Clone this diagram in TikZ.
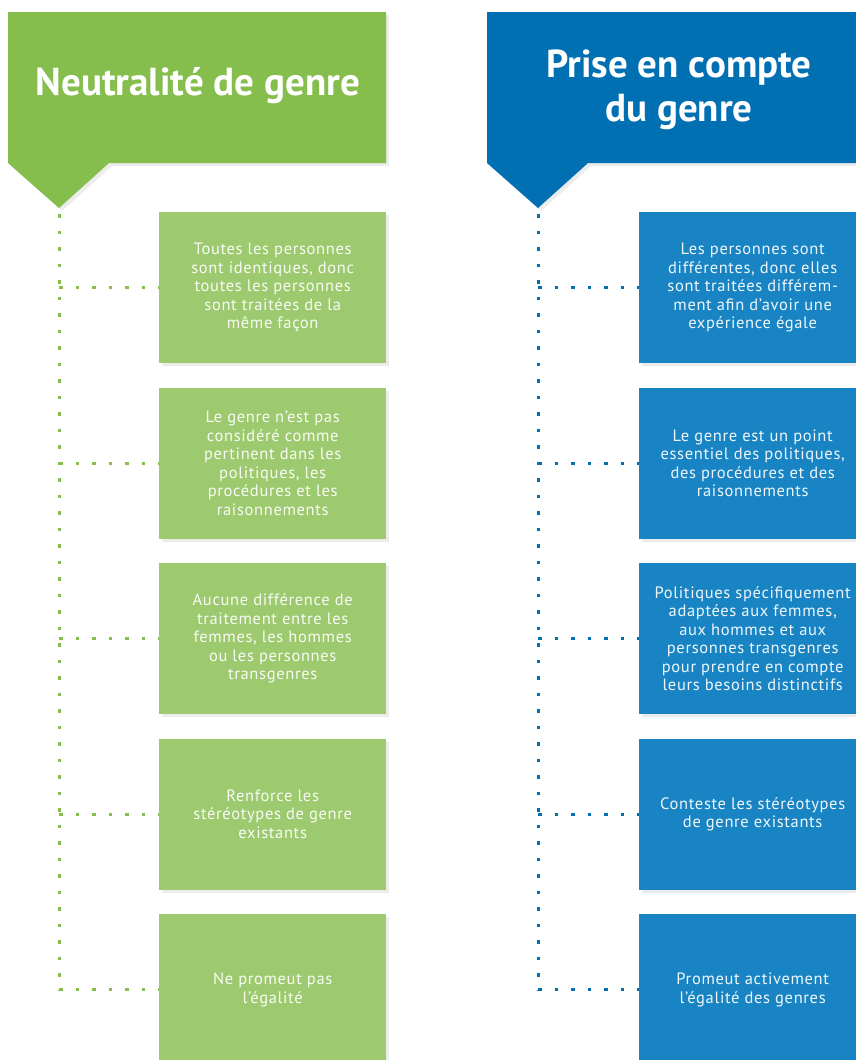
\documentclass[tikz,border=0pt]{standalone}
\usepackage{fontspec}
\setmainfont{PT Sans}
\usetikzlibrary{shadows, calc}
\definecolor{leafdark}{RGB}{134, 190, 78}
\definecolor{leaf}{RGB}{157, 201, 111}
\definecolor{seadark}{RGB}{0, 112, 178}
\definecolor{sea}{RGB}{24, 132, 195}

\begin{document}
\begin{tikzpicture}[x=1pt, y=-1pt,
  softshadow/.style={drop shadow={opacity=0.15, shadow xshift=3pt, shadow yshift=-3pt}},
  card/.style={fill=#1, softshadow, minimum width=227pt, minimum height=151pt,
    inner sep=0pt, anchor=north west, text=white, text opacity=0.93,
    align=center, font=\fontsize{16.5}{18.5}\selectfont\addfontfeatures{LetterSpace=4}},
  heading/.style={text=white, align=center, font=\fontsize{39}{44}\selectfont\bfseries},
  dots/.style={line width=3pt, dash pattern=on 3.5pt off 13pt}]

  \useasboundingbox (0, 0) rectangle (856, 1060);

  % headers with their pointer
  \fill[leafdark, softshadow] (8, 12) -- (386, 12) -- (386, 163) -- (109, 163)
    -- (59, 208) -- (8, 163) -- cycle;
  \node[heading] (neutre) at (198, 86) {Neutralité de genre};
  \coordinate (ltip) at (59, 214);

  \fill[seadark, softshadow] (487, 12) -- (866, 12) -- (866, 163) -- (588, 163)
    -- (538, 208) -- (487, 163) -- cycle;
  \node[heading] (prise) at (679, 89.5) {Prise en compte\\du genre};
  \coordinate (rtip) at (538, 214);

  \foreach \i/\top/\ltxt/\rtxt in {
    1/212/{Toutes les personnes\\sont identiques, donc\\toutes les personnes\\sont traitées de la\\même façon}/{Les personnes sont\\différentes, donc elles\\sont traitées différem-\\ment afin d’avoir une\\expérience égale},
    2/387.5/{Le genre n’est pas\\considéré comme\\pertinent dans les\\politiques, les\\procédures et les\\raisonnements}/{Le genre est un point\\essentiel des politiques,\\des procédures et des\\raisonnements},
    3/563/{Aucune différence de\\traitement entre les\\femmes, les hommes\\ou les personnes\\transgenres}/{Politiques spécifiquement\\adaptées aux femmes,\\aux hommes et aux\\personnes transgenres\\pour prendre en compte\\leurs besoins distinctifs},
    4/738.5/{Renforce les\\stéréotypes de genre\\existants}/{Conteste les stéréotypes\\de genre existants},
    5/914/{Ne promeut pas\\l’égalité}/{Promeut activement\\l’égalité des genres}} {
    \node[card=leaf] (l\i) at (159, \top) {\ltxt};
    \node[card=sea] (r\i) at (639, \top) {\rtxt};
    \draw[dots, leafdark] (ltip |- l\i.west) -- (l\i.west);
    \draw[dots, seadark] (rtip |- r\i.west) -- (r\i.west);
  }

  \draw[dots, leafdark] (ltip) -- (ltip |- l5.west);
  \draw[dots, seadark] (rtip) -- (rtip |- r5.west);

\end{tikzpicture}
\end{document}
